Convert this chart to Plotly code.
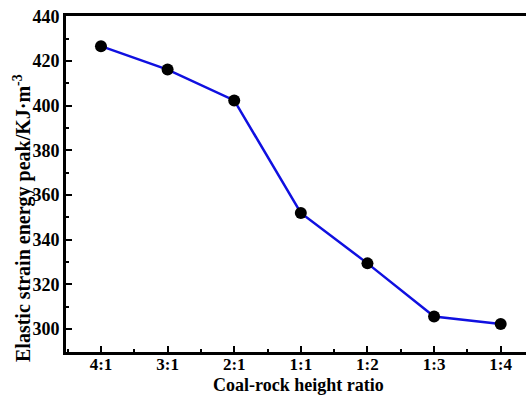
import plotly.graph_objects as go

categories = ["4:1", "3:1", "2:1", "1:1", "1:2", "1:3", "1:4"]
energy_peak = [426.7, 416.2, 402.4, 352.0, 329.4, 305.6, 302.2]
y_ticks = [300, 320, 340, 360, 380, 400, 420, 440]

xpos = list(range(len(categories)))
font_family = "Liberation Serif, Times New Roman, serif"

fig = go.Figure()
fig.add_trace(go.Scatter(
    x=xpos, y=energy_peak, mode="lines+markers",
    line=dict(color="#1010e0", width=2.5),
    marker=dict(color="black", size=12),
    showlegend=False,
))

fig.update_layout(
    width=526, height=395,
    margin=dict(l=66, r=0, t=16, b=43),
    paper_bgcolor="white", plot_bgcolor="white",
    font=dict(family=font_family, size=18, color="black"),
    xaxis=dict(
        range=[-0.525, 6.38],
        tickvals=xpos, ticktext=[f"<b>{c}</b>" for c in categories],
        ticks="inside", ticklen=6, tickwidth=2, tickcolor="black",
        minor=dict(dtick=0.5, tick0=0, ticks="inside", ticklen=3, tickwidth=2, tickcolor="black"),
        showline=True, linewidth=3, linecolor="black", mirror=True,
        showgrid=False, zeroline=False,
        tickfont=dict(size=17, family=font_family),
        ticklabelstandoff=-5,
    ),
    yaxis=dict(
        range=[289.7, 440.2],
        tickvals=y_ticks, ticktext=[f"<b>{v}</b>" for v in y_ticks],
        ticks="inside", ticklen=6, tickwidth=2, tickcolor="black",
        minor=dict(dtick=10, tick0=300, ticks="inside", ticklen=3, tickwidth=2, tickcolor="black"),
        showline=True, linewidth=3, linecolor="black", mirror=False,
        showgrid=False, zeroline=False,
        tickfont=dict(size=18, family=font_family),
    ),
)

fig.add_annotation(
    text="<b>Coal-rock height ratio</b>",
    xref="paper", yref="paper", x=(298 - 66) / 460, y=0, yshift=-(385 - 352),
    showarrow=False, xanchor="center", yanchor="middle",
    font=dict(size=18, family=font_family),
)

fig.add_annotation(
    text="<b>Elastic strain energy peak/KJ·m<sup>-3</sup></b>",
    xref="paper", yref="paper", x=(22 - 66) / 460, y=0.5, yshift=-34,
    textangle=-90, showarrow=False, xanchor="center", yanchor="middle",
    font=dict(size=20, family=font_family),
)

fig.write_html("out.html")
